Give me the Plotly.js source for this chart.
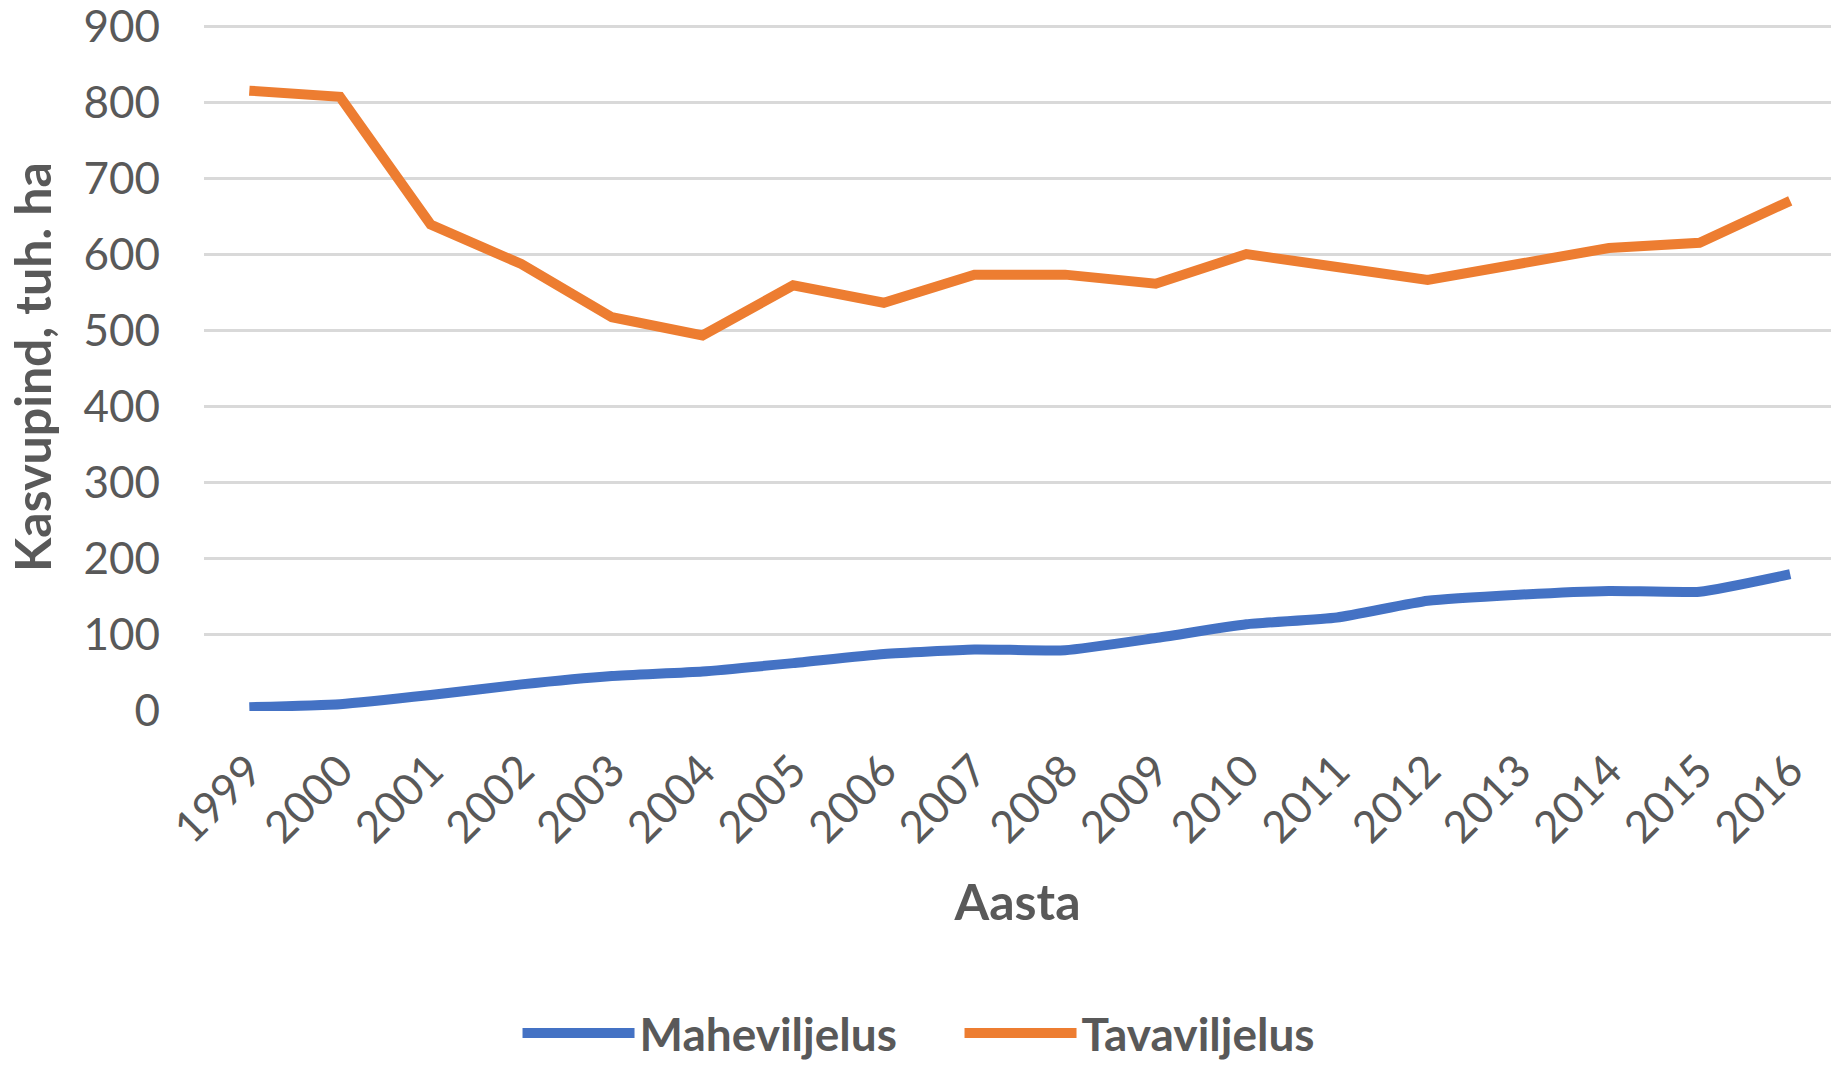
<!DOCTYPE html>
<html>
<head>
<meta charset="utf-8">
<script src="https://cdn.plot.ly/plotly-3.0.1.min.js"></script>
<style>html,body{margin:0;padding:0;background:#fff;}#chart{width:1831px;height:1065px;}</style>
</head>
<body>
<div id="chart"></div>
<script>
const years = ["1999","2000","2001","2002","2003","2004","2005","2006","2007","2008","2009","2010","2011","2012","2013","2014","2015","2016"];
const maheviljelus = [5, 9, 21, 35, 46, 52, 63, 75, 81, 80, 96, 114, 123, 145, 153, 158, 157, 180];
const tavaviljelus = [816, 808, 640, 588, 518, 494, 560, 537, 574, 574, 562, 601, 584, 567, 588, 609, 616, 671];
const yTicks = [0, 100, 200, 300, 400, 500, 600, 700, 800, 900];
const seriesNames = ["Maheviljelus", "Tavaviljelus"];
const xTitle = "Aasta";
const yTitle = "Kasvupind, tuh. ha";

const FONT = "Lato, 'Open Sans', sans-serif";
const GREY = "#595959";

const traces = [
  {x: years, y: maheviljelus, name: seriesNames[0], type: "scatter", mode: "lines",
   line: {color: "#4472C4", width: 10, shape: "spline", smoothing: 0.5}},
  {x: years, y: tavaviljelus, name: seriesNames[1], type: "scatter", mode: "lines",
   line: {color: "#ED7D31", width: 10}}
];

const layout = {
  width: 1831, height: 1065,
  margin: {l: 204, r: 0, t: 23, b: 354, pad: 0, autoexpand: false},
  paper_bgcolor: "#fff", plot_bgcolor: "#fff",
  font: {family: FONT, color: GREY, size: 44},
  xaxis: {
    type: "category", range: [-0.5, 17.45], automargin: false,
    tickangle: -45, ticks: "", ticklabelstandoff: 24, ticklabeloverflow: "allow",
    tickfont: {family: FONT, size: 44, color: GREY},
    showgrid: false, zeroline: false, showline: false,
    title: {text: xTitle, font: {family: FONT, size: 50, color: GREY, weight: 700}, standoff: 33}
  },
  yaxis: {
    range: [0, 905], tickvals: yTicks, ticks: "", ticklabelstandoff: 43, automargin: false,
    ticklabeloverflow: "allow",
    tickfont: {family: FONT, size: 44, color: GREY},
    showgrid: true, gridcolor: "#D9D9D9", gridwidth: 3,
    zeroline: false, showline: false,
    title: {text: yTitle, font: {family: FONT, size: 50, color: GREY, weight: 700}, standoff: 15}
  },
  showlegend: true,
  legend: {
    orientation: "h", x: 0.1927, xanchor: "left", y: -0.468, yanchor: "middle",
    itemwidth: 112, entrywidth: 315, entrywidthmode: "pixels",
    font: {family: FONT, size: 46, color: GREY, weight: 700},
    bgcolor: "rgba(0,0,0,0)"
  }
};

Plotly.newPlot("chart", traces, layout, {staticPlot: true, displayModeBar: false});
</script>
</body>
</html>
